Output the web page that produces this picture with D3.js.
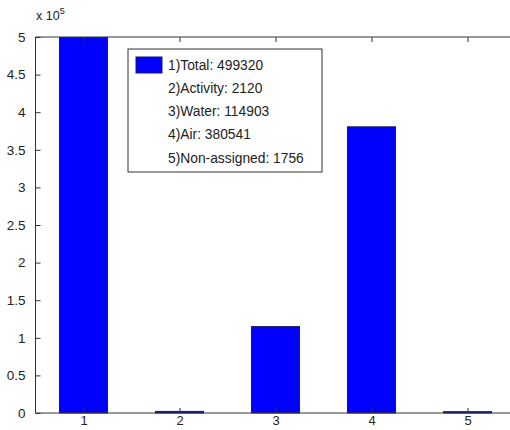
<!DOCTYPE html>
<html><head><meta charset="utf-8">
<script src="https://cdn.jsdelivr.net/npm/d3@7"></script>
<style>body{margin:0;background:#fff}svg{display:block}text{font-family:"Liberation Sans",Arial,sans-serif;fill:#222}</style>
</head><body><svg id="c" width="510" height="430"></svg>
<script>
const categories = [1, 2, 3, 4, 5];
const values = [499320, 2120, 114903, 380541, 1756];
const legendLabels = ["1)Total: 499320", "2)Activity: 2120", "3)Water: 114903", "4)Air: 380541", "5)Non-assigned: 1756"];
const yTicks = [0, 0.5e5, 1e5, 1.5e5, 2e5, 2.5e5, 3e5, 3.5e5, 4e5, 4.5e5, 5e5];

const svg = d3.select("#c");
const L = 35.5, T = 37, B = 413, R = 515.5;
const x = d3.scaleLinear().domain([0.5, 5.5]).range([L, R]);
const y = d3.scaleLinear().domain([0, 5e5]).range([B, T]);
const bw = (x(2) - x(1)) * 0.5;

svg.append("g").selectAll("rect").data(values).join("rect")
  .attr("x", (d, i) => x(categories[i]) - bw / 2)
  .attr("y", d => y(d))
  .attr("width", bw)
  .attr("height", d => B - y(d))
  .attr("fill", "#0000ff").attr("stroke", "#1a1a60").attr("stroke-width", 1);

const ax = "#333";
svg.append("line").attr("x1", L).attr("x2", R).attr("y1", T).attr("y2", T).attr("stroke", ax);
svg.append("line").attr("x1", L).attr("x2", R).attr("y1", B).attr("y2", B).attr("stroke", ax);
svg.append("line").attr("x1", L).attr("x2", L).attr("y1", T).attr("y2", B).attr("stroke", ax);

const fmt = v => { const s = v / 1e5; return s === 0 ? "0" : String(s); };
const yAxis = d3.axisLeft(y).tickValues(yTicks).tickFormat(fmt).tickSizeInner(-5).tickSizeOuter(0).tickPadding(10);
const gy = svg.append("g").attr("transform", `translate(${L},0)`).call(yAxis);
gy.select(".domain").remove();
gy.selectAll("line").attr("stroke", ax);
gy.selectAll("text").attr("font-size", 13.5).style("fill", "#222");

const xAxis = d3.axisBottom(x).tickValues(categories).tickFormat(d3.format("d")).tickSizeInner(-5).tickSizeOuter(0).tickPadding(3);
const gx = svg.append("g").attr("transform", `translate(0,${B})`).call(xAxis);
gx.select(".domain").remove();
gx.selectAll("line").attr("stroke", ax);
gx.selectAll("text").attr("font-size", 13).style("fill", "#222");

const xTop = d3.axisTop(x).tickValues(categories).tickFormat("").tickSizeInner(-5).tickSizeOuter(0);
const gt = svg.append("g").attr("transform", `translate(0,${T})`).call(xTop);
gt.select(".domain").remove();
gt.selectAll("line").attr("stroke", ax);

const ex = svg.append("text").attr("x", 36).attr("y", 20).attr("font-size", 12.5);
ex.append("tspan").text("x 10");
ex.append("tspan").attr("dy", -6).attr("font-size", 9).text("5");

const lg = svg.append("g").attr("transform", "translate(128,49)");
lg.append("rect").attr("width", 194).attr("height", 123).attr("fill", "#fff").attr("stroke", ax);
lg.append("rect").attr("x", 8).attr("y", 8).attr("width", 26).attr("height", 16).attr("fill", "#0000ff").attr("stroke", "#1a1a60");
lg.selectAll("text.l").data(legendLabels).join("text").attr("class", "l")
  .attr("x", 40).attr("y", (d, i) => 20.5 + i * 23.3).attr("font-size", 13.8).text(d => d);
</script></body></html>
